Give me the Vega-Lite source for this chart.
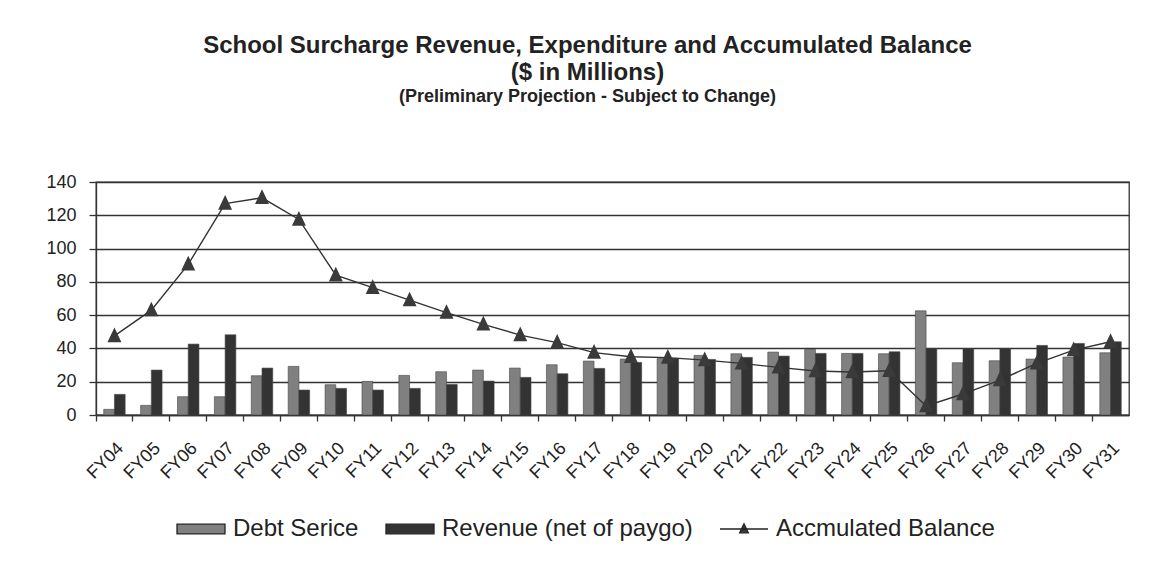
{
  "$schema": "https://vega.github.io/schema/vega-lite/v6.json",
  "autosize": {"type": "none"},
  "padding": {"left": 96, "top": 182, "right": 22, "bottom": 148},
  "width": 1033,
  "height": 233,
  "background": "white",
  "title": {
    "text": ["School Surcharge Revenue, Expenditure and Accumulated Balance", "($ in Millions)"],
    "subtitle": "(Preliminary Projection - Subject to Change)",
    "font": "Liberation Sans",
    "fontSize": 24,
    "fontWeight": "bold",
    "lineHeight": 27,
    "color": "#222",
    "subtitleFont": "Liberation Sans",
    "subtitleFontSize": 18,
    "subtitleFontWeight": "bold",
    "subtitleColor": "#222",
    "subtitlePadding": 3,
    "anchor": "middle",
    "dx": -25,
    "offset": 67
  },
  "data": {
    "values": [
      {"fy": "FY04", "Debt Serice": 3.4, "Revenue (net of paygo)": 12.4, "Accmulated Balance": 47.5},
      {"fy": "FY05", "Debt Serice": 5.8, "Revenue (net of paygo)": 27, "Accmulated Balance": 63},
      {"fy": "FY06", "Debt Serice": 11, "Revenue (net of paygo)": 42.6, "Accmulated Balance": 90.5},
      {"fy": "FY07", "Debt Serice": 11, "Revenue (net of paygo)": 48.2, "Accmulated Balance": 127},
      {"fy": "FY08", "Debt Serice": 23.6, "Revenue (net of paygo)": 28.2, "Accmulated Balance": 130.5},
      {"fy": "FY09", "Debt Serice": 29.2, "Revenue (net of paygo)": 15, "Accmulated Balance": 117.5},
      {"fy": "FY10", "Debt Serice": 18.2, "Revenue (net of paygo)": 16, "Accmulated Balance": 84},
      {"fy": "FY11", "Debt Serice": 20.2, "Revenue (net of paygo)": 15, "Accmulated Balance": 76.5},
      {"fy": "FY12", "Debt Serice": 23.8, "Revenue (net of paygo)": 16, "Accmulated Balance": 69},
      {"fy": "FY13", "Debt Serice": 26, "Revenue (net of paygo)": 18.4, "Accmulated Balance": 61.5},
      {"fy": "FY14", "Debt Serice": 27, "Revenue (net of paygo)": 20.4, "Accmulated Balance": 54.5},
      {"fy": "FY15", "Debt Serice": 28.2, "Revenue (net of paygo)": 22.6, "Accmulated Balance": 48},
      {"fy": "FY16", "Debt Serice": 30.2, "Revenue (net of paygo)": 24.8, "Accmulated Balance": 43.5},
      {"fy": "FY17", "Debt Serice": 32.4, "Revenue (net of paygo)": 28, "Accmulated Balance": 37.5},
      {"fy": "FY18", "Debt Serice": 33.6, "Revenue (net of paygo)": 31.6, "Accmulated Balance": 35},
      {"fy": "FY19", "Debt Serice": 34, "Revenue (net of paygo)": 34, "Accmulated Balance": 34.5},
      {"fy": "FY20", "Debt Serice": 35.8, "Revenue (net of paygo)": 33.4, "Accmulated Balance": 33},
      {"fy": "FY21", "Debt Serice": 36.8, "Revenue (net of paygo)": 34.6, "Accmulated Balance": 31},
      {"fy": "FY22", "Debt Serice": 37.8, "Revenue (net of paygo)": 35.4, "Accmulated Balance": 28.6},
      {"fy": "FY23", "Debt Serice": 39.4, "Revenue (net of paygo)": 37, "Accmulated Balance": 26.4},
      {"fy": "FY24", "Debt Serice": 37, "Revenue (net of paygo)": 37, "Accmulated Balance": 25.8},
      {"fy": "FY25", "Debt Serice": 36.8, "Revenue (net of paygo)": 38, "Accmulated Balance": 26.6},
      {"fy": "FY26", "Debt Serice": 62.6, "Revenue (net of paygo)": 39.8, "Accmulated Balance": 5.4},
      {"fy": "FY27", "Debt Serice": 31.4, "Revenue (net of paygo)": 39.8, "Accmulated Balance": 12.6},
      {"fy": "FY28", "Debt Serice": 32.6, "Revenue (net of paygo)": 39.8, "Accmulated Balance": 21},
      {"fy": "FY29", "Debt Serice": 33.6, "Revenue (net of paygo)": 41.8, "Accmulated Balance": 31},
      {"fy": "FY30", "Debt Serice": 34.8, "Revenue (net of paygo)": 43, "Accmulated Balance": 39},
      {"fy": "FY31", "Debt Serice": 37.4, "Revenue (net of paygo)": 44, "Accmulated Balance": 44}
    ]
  },
  "transform": [
    {"fold": ["Debt Serice", "Revenue (net of paygo)", "Accmulated Balance"], "as": ["series", "value"]}
  ],
  "encoding": {
    "x": {
      "field": "fy",
      "type": "nominal",
      "sort": null,
      "title": null,
      "scale": {"paddingInner": 0, "paddingOuter": 0},
      "axis": {
        "bandPosition": 0,
        "labelAngle": -45,
        "labelFontSize": 18,
        "labelFont": "Liberation Sans",
        "labelColor": "#222",
        "labelPadding": 18,
        "tickSize": 6,
        "tickColor": "#333",
        "domainColor": "#333",
        "tickWidth": 1.3,
        "domainWidth": 1.3,
        "grid": false
      }
    },
    "y": {
      "field": "value",
      "type": "quantitative",
      "title": null,
      "scale": {"domain": [0, 140], "nice": false},
      "axis": {
        "values": [0, 20, 40, 60, 80, 100, 120, 140],
        "labelFontSize": 18,
        "labelFont": "Liberation Sans",
        "labelColor": "#222",
        "labelPadding": 13,
        "tickSize": 7,
        "tickColor": "#333",
        "tickWidth": 1.3,
        "domainColor": "#333",
        "domainWidth": 1.3,
        "grid": true,
        "gridColor": "#333",
        "gridWidth": 1.4,
        "gridOpacity": 1
      }
    }
  },
  "layer": [
    {
      "transform": [{"filter": "datum.series !== 'Accmulated Balance'"}],
      "mark": {"type": "bar", "stroke": "#444", "strokeWidth": 0.6},
      "encoding": {
        "xOffset": {
          "field": "series",
          "scale": {"domain": ["Debt Serice", "Revenue (net of paygo)"], "paddingInner": 0, "paddingOuter": 0.72}
        },
        "color": {
          "field": "series",
          "type": "nominal",
          "scale": {
            "domain": ["Debt Serice", "Revenue (net of paygo)", "Accmulated Balance"],
            "range": ["#808080", "#333333", "#3a3a3a"]
          },
          "legend": {
            "title": null,
            "orient": "none",
            "direction": "horizontal",
            "legendX": 80,
            "legendY": 322,
            "labelFontSize": 24,
            "labelFont": "Liberation Sans",
            "labelColor": "#222",
            "labelLimit": 0,
            "labelOffset": 7,
            "columnPadding": 24,
            "symbolSize": 2304,
            "symbolStrokeColor": "#222",
            "symbolStrokeWidth": 1.3,
            "symbolOpacity": 1
          }
        }
      }
    },
    {
      "transform": [{"filter": "datum.series === 'Accmulated Balance'"}],
      "mark": {"type": "line", "color": "#333", "strokeWidth": 1.4},
      "encoding": {}
    },
    {
      "transform": [{"filter": "datum.series === 'Accmulated Balance'"}],
      "mark": {"type": "point", "filled": true, "size": 6000, "opacity": 1, "strokeWidth": 0},
      "encoding": {
        "color": {"field": "series", "type": "nominal"},
        "shape": {
          "field": "series",
          "type": "nominal",
          "scale": {
            "domain": ["Debt Serice", "Revenue (net of paygo)", "Accmulated Balance"],
            "range": [
              "M-1,-0.2H1V0.2H-1Z",
              "M-1,-0.2H1V0.2H-1Z",
              "M-1,0H1M-0.18,0.16L0,-0.22L0.18,0.16Z"
            ]
          }
        }
      }
    }
  ],
  "config": {
    "view": {"stroke": "#333", "strokeWidth": 1.3}
  }
}
